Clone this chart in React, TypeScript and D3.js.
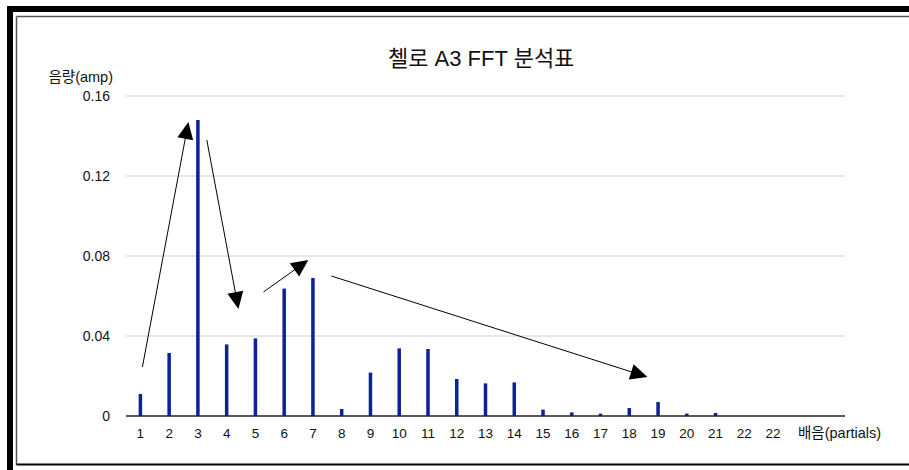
import React, { useEffect } from "react";
import * as d3 from "d3";

const title = "첼로 A3 FFT 분석표";
const yTitle = "음량(amp)";
const xTitle = "배음(partials)";
const categories = ["1","2","3","4","5","6","7","8","9","10","11","12","13","14","15","16","17","18","19","20","21","22","22"];
const amplitudes = [0.011,0.0315,0.148,0.0358,0.0388,0.0637,0.069,0.0035,0.0217,0.0338,0.0335,0.0185,0.0163,0.0168,0.0032,0.0018,0.0012,0.004,0.007,0.0012,0.0015,0,0];
const yTicks = [0, 0.04, 0.08, 0.12, 0.16];
// annotation arrows in data coordinates: [partial, amp] -> [partial, amp]
const arrows = [
  { x1: 1.07, y1: 0.0245, x2: 2.67, y2: 0.147 },
  { x1: 3.31, y1: 0.138, x2: 4.41, y2: 0.0535 },
  { x1: 5.28, y1: 0.062, x2: 6.84, y2: 0.078 },
  { x1: 7.64, y1: 0.07, x2: 18.63, y2: 0.0195 },
];

const W = 909, H = 470;
const plotLeft = 126, plotRight = 845, plotTop = 96, plotBottom = 416;
const totalSlots = 25;
const font = "'Liberation Sans', Arial, 'Noto Sans CJK KR', sans-serif";

export default function App() {
  useEffect(() => {
    document.body.style.margin = "0";
  }, []);

  const x = d3.scaleBand<number>().domain(d3.range(totalSlots)).range([plotLeft, plotRight]).padding(0);
  const step = x.step();
  const xc = (i: number) => (x(i) as number) + step / 2;
  const xLin = d3.scaleLinear().domain([1, 2]).range([xc(0), xc(1)]);
  const y = d3.scaleLinear().domain([0, 0.16]).range([plotBottom, plotTop]);

  const arrowHead = (a: typeof arrows[0]) => {
    const X1 = xLin(a.x1), Y1 = y(a.y1), X2 = xLin(a.x2), Y2 = y(a.y2);
    const ang = Math.atan2(Y2 - Y1, X2 - X1);
    const len = 17, half = 8;
    const bx = X2 - len * Math.cos(ang), by = Y2 - len * Math.sin(ang);
    const px = -Math.sin(ang) * half, py = Math.cos(ang) * half;
    return {
      line: [X1, Y1, bx + 2 * Math.cos(ang), by + 2 * Math.sin(ang)],
      head: `${X2},${Y2} ${bx + px},${by + py} ${bx - px},${by - py}`,
    };
  };

  return (
    <svg width={W} height={H} style={{ display: "block", background: "#fff" }} fontFamily={font}>
      <rect x={0} y={0} width={W} height={H} fill="#fff" />
      {/* frame */}
      <rect x={7} y={6} width={W - 7} height={6} fill="#000" />
      <rect x={7} y={6} width={6} height={H - 6} fill="#000" />
      <line x1={16.5} y1={16.5} x2={W} y2={16.5} stroke="#555" strokeWidth={1.5} />
      <line x1={16.5} y1={16.5} x2={16.5} y2={465} stroke="#555" strokeWidth={1.5} />
      <line x1={16.5} y1={464.5} x2={W} y2={464.5} stroke="#000" strokeWidth={2} />

      <text x={388} y={66} textAnchor="start" fontSize={22} fill="#111">{title}</text>

      {/* grid */}
      {yTicks.map((t) => (
        <g key={t}>
          {t > 0 && (
            <line x1={plotLeft} x2={plotRight} y1={y(t)} y2={y(t)} stroke="#d0d0d0" strokeWidth={1} />
          )}
          <text x={110} y={y(t)} dy="0.35em" textAnchor="end" fontSize={14} fill="#111">{String(t)}</text>
        </g>
      ))}
      <text x={113} y={82} textAnchor="end" fontSize={14.5} fill="#111">{yTitle}</text>

      {/* bars */}
      {amplitudes.map((v, i) => (
        <rect key={i} x={xc(i) - 1.75} width={3.5} y={y(v)} height={plotBottom - y(v)} fill="#0b229a" />
      ))}

      {/* x axis */}
      <line x1={plotLeft} x2={plotRight} y1={plotBottom} y2={plotBottom} stroke="#222" strokeWidth={1.5} />
      {categories.map((c, i) => (
        <text key={i} x={xc(i)} y={438} textAnchor="middle" fontSize={13.5} fill="#111">{c}</text>
      ))}
      <text x={798} y={438} textAnchor="start" fontSize={14.5} fill="#111">{xTitle}</text>

      {/* arrows */}
      {arrows.map((a, i) => {
        const h = arrowHead(a);
        return (
          <g key={i}>
            <line x1={h.line[0]} y1={h.line[1]} x2={h.line[2]} y2={h.line[3]} stroke="#000" strokeWidth={1} />
            <polygon points={h.head} fill="#000" />
          </g>
        );
      })}
    </svg>
  );
}
